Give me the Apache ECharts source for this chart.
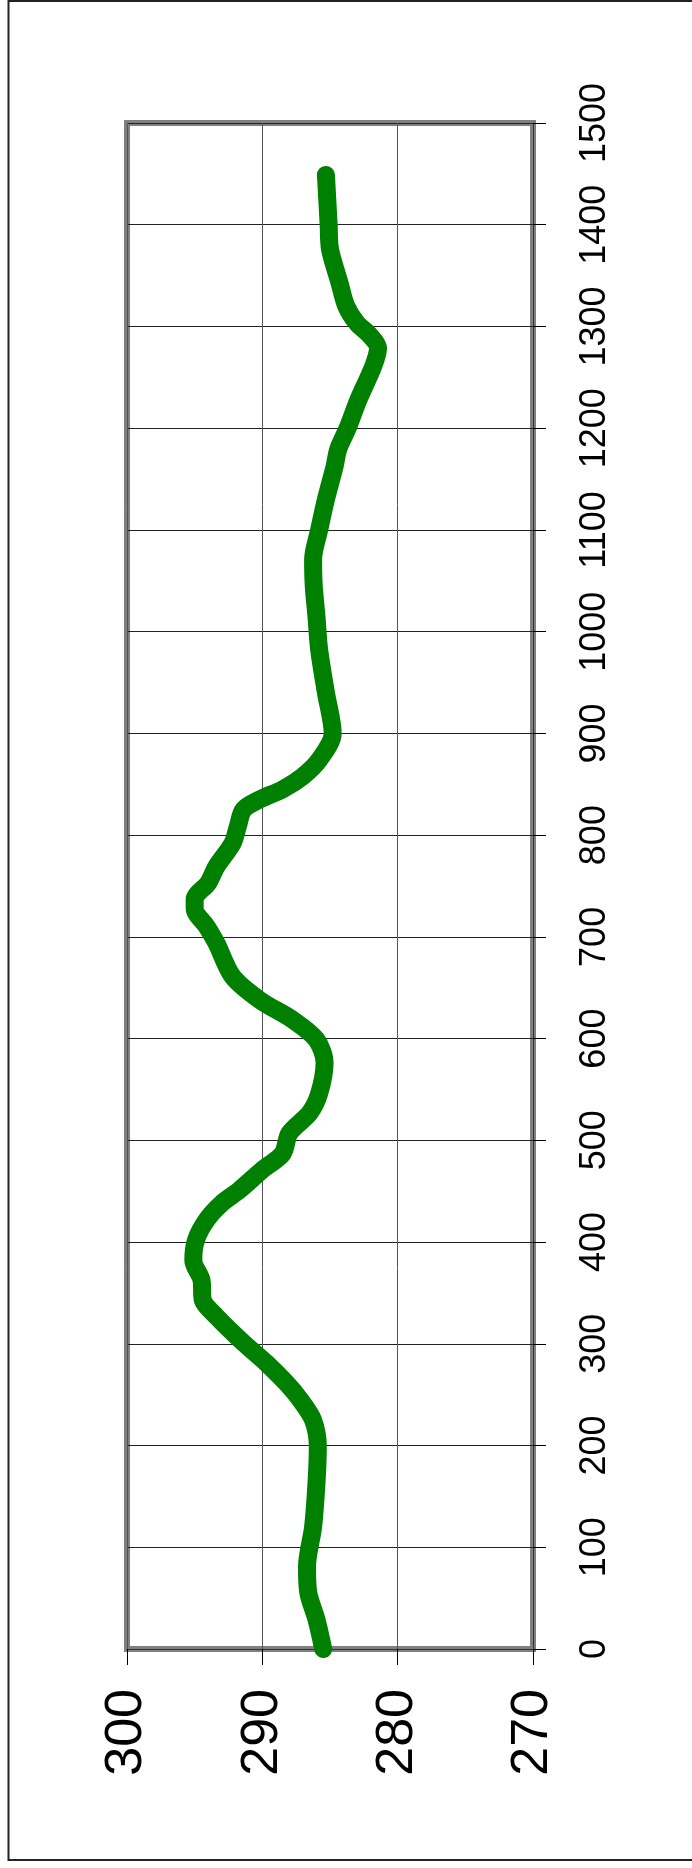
<!DOCTYPE html>
<html>
<head>
<meta charset="utf-8">
<title>profile</title>
<script src="https://cdn.jsdelivr.net/npm/echarts@6/dist/echarts.min.js"></script>
<style>
  html, body { margin: 0; padding: 0; background: #fff; }
  #zoom { width: 692px; height: 1868px; }
</style>
</head>
<body>
<div id="zoom"></div>
<script>
// depth (vertical axis, right side) and value (horizontal axis, reversed)
const depth = [0, 29, 55, 81, 120, 163, 199, 225, 245, 261, 281, 301, 327, 343, 363, 382,
  402, 422, 438, 451, 471, 487, 507, 527, 546, 576, 599, 618, 638, 661, 694, 710, 728,
  737, 753, 769, 792, 809, 825, 835, 845, 858, 874, 900, 940, 982, 1015, 1045, 1071,
  1100, 1130, 1163, 1179, 1200, 1228, 1261, 1279, 1292, 1303, 1320, 1343, 1376, 1400, 1449]
const values = [285.5, 286.0, 286.6, 286.7, 286.25, 286.0, 285.9, 286.25, 287.2, 288.2,
  289.7, 291.4, 293.4, 294.4, 294.5, 295.1, 294.9, 294.1, 293.0, 291.7, 290.0, 288.5,
  288.0, 286.5, 285.8, 285.4, 286.0, 287.7, 290.2, 292.2, 293.4, 294.1, 295.0, 295.0,
  294.0, 293.4, 292.2, 291.8, 291.4, 290.2, 288.5, 287.0, 285.8, 284.8, 285.3, 285.8,
  286.0, 286.2, 286.25, 285.8, 285.3, 284.65, 284.4, 283.7, 282.9, 281.8, 281.45, 282.1,
  283.0, 283.8, 284.3, 285.0, 285.1, 285.3]
const valueTicks = [270, 280, 290, 300]
const depthTicks = [0, 100, 200, 300, 400, 500, 600, 700, 800, 900, 1000, 1100, 1200, 1300, 1400, 1500]

let myChart = echarts.init(document.getElementById('zoom'))

const option = {
  animation: false,
  backgroundColor: '#fff',
  textStyle: { fontFamily: 'Liberation Sans, Arial, sans-serif' },
  grid: {
    left: 127,
    right: 159,
    top: 123,
    bottom: 219,
    show: true,
    borderColor: '#808080',
    borderWidth: 6
  },
  xAxis: {
    type: 'value',
    min: valueTicks[0],
    max: valueTicks[valueTicks.length - 1],
    interval: 10,
    inverse: true,
    position: 'bottom',
    axisLine: { show: true, onZero: false, lineStyle: { color: '#333', width: 1 } },
    axisTick: { show: true, length: 16, lineStyle: { color: '#000', width: 1 } },
    axisLabel: {
      rotate: 90,
      margin: 40,
      fontSize: 52,
      color: '#000',
      fontFamily: 'Liberation Sans',
      formatter: v => String(v)
    },
    splitLine: { show: true, lineStyle: { color: '#555', width: 1 } }
  },
  yAxis: {
    type: 'value',
    min: depthTicks[0],
    max: depthTicks[depthTicks.length - 1],
    interval: 100,
    position: 'right',
    axisLine: { show: true, lineStyle: { color: '#333', width: 1 } },
    axisTick: { show: true, length: 13, lineStyle: { color: '#000', width: 1 } },
    axisLabel: {
      rotate: 90,
      margin: 44,
      fontSize: 36,
      color: '#000',
      fontFamily: 'Liberation Sans',
      formatter: v => String(v)  // no thousands separator
    },
    splitLine: { show: true, lineStyle: { color: '#222', width: 1 } }
  },
  series: [
    {
      type: 'line',
      data: depth.map((d, i) => [values[i], d]),
      showSymbol: false,
      smooth: 0.3,
      lineStyle: { color: '#008000', width: 18, cap: 'round', join: 'round' },
      z: 3
    }
  ],
  graphic: [
    // outer frame
    {
      type: 'rect',
      shape: { x: 8.5, y: 1, width: 700, height: 1859 },
      style: { fill: 'none', stroke: '#222', lineWidth: 2 },
      silent: true
    }
  ]
}
myChart.setOption(option)
</script>
</body>
</html>
